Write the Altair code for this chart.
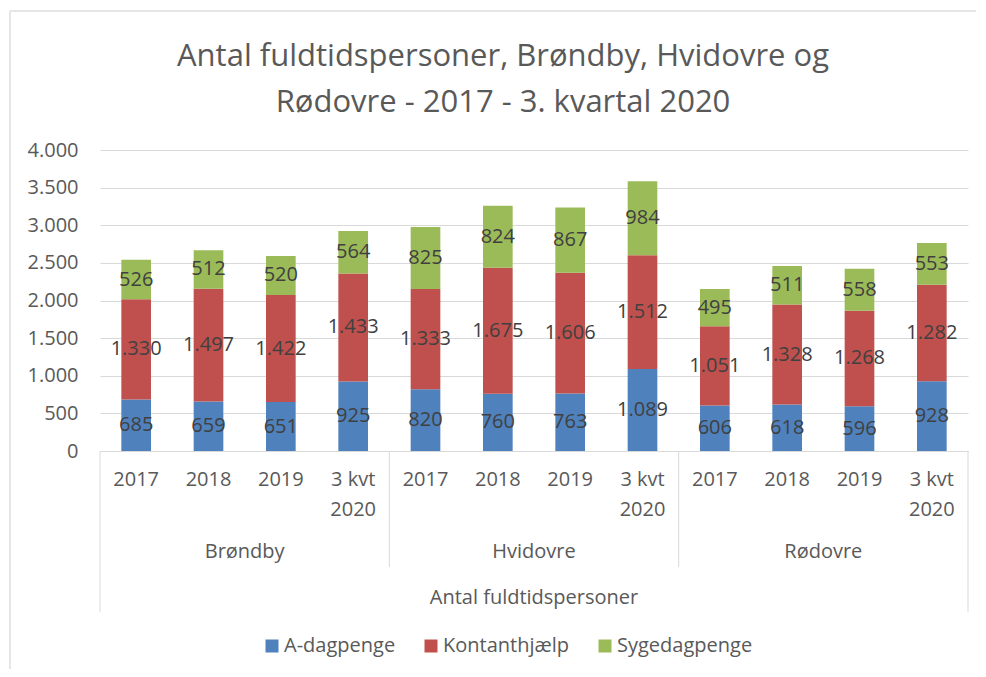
import altair as alt
import pandas as pd

municipalities = ["Brøndby", "Hvidovre", "Rødovre"]
periods = ["2017", "2018", "2019", "3 kvt|2020"]
series = ["A-dagpenge", "Kontanthjælp", "Sygedagpenge"]
colors = ["#4F81BD", "#C0504D", "#9BBB59"]

a_dagpenge = [685, 659, 651, 925, 820, 760, 763, 1089, 606, 618, 596, 928]
kontanthjaelp = [1330, 1497, 1422, 1433, 1333, 1675, 1606, 1512, 1051, 1328, 1268, 1282]
sygedagpenge = [526, 512, 520, 564, 825, 824, 867, 984, 495, 511, 558, 553]

values = {"A-dagpenge": a_dagpenge, "Kontanthjælp": kontanthjaelp, "Sygedagpenge": sygedagpenge}

keys = [m + "#" + p for m in municipalities for p in periods]
rows = []
for si, s in enumerate(series):
    for ki, k in enumerate(keys):
        rows.append({"key": k, "series": s, "order": si, "value": values[s][ki]})
df = pd.DataFrame(rows)

W, H = 868, 301
FONT = "Open Sans"

xscale = alt.Scale(domain=keys, paddingInner=0, paddingOuter=0)
xaxis = alt.Axis(
    title=None, labelExpr="split(split(datum.label, '#')[1], '|')",
    labelAngle=0, labelFont=FONT, labelFontSize=20, labelColor="#595959",
    labelLineHeight=30, labelPadding=18, ticks=False, domainColor="#D9D9D9",
    labelBaseline="top", grid=False, labelOverlap=False,
)
yscale = alt.Scale(domain=[0, 4000])
yaxis = alt.Axis(title=None, values=list(range(0, 4001, 500)),
                 labelExpr="replace(format(datum.value, ','), ',', '.')",
                 labelFont=FONT, labelFontSize=20, labelColor="#595959",
                 labelPadding=22, ticks=False, domain=False, labelOverlap=False,
                 gridColor="#D9D9D9")

base = alt.Chart(df).transform_stack(
    stack="value", groupby=["key"], sort=[alt.SortField("order")], as_=["y0", "y1"]
).transform_calculate(
    mid="(datum.y0 + datum.y1) / 2",
    lbl="replace(format(datum.value, ','), ',', '.')",
)

bars = base.mark_bar(width=alt.RelativeBandSize(0.41)).encode(
    x=alt.X("key:N", scale=xscale, axis=xaxis, sort=keys),
    y=alt.Y("y0:Q", scale=yscale, axis=yaxis),
    y2="y1:Q",
    color=alt.Color("series:N", scale=alt.Scale(domain=series, range=colors),
                    legend=alt.Legend(title=None, orient="none", legendX=162, legendY=486,
                                      direction="horizontal", symbolType="square",
                                      symbolSize=169, symbolStrokeWidth=0,
                                      labelFont=FONT, labelFontSize=20, labelColor="#595959",
                                      labelOffset=2, columnPadding=25)),
)

labels = base.mark_text(font=FONT, fontSize=20, color="#404040").encode(
    x=alt.X("key:N", scale=xscale, axis=xaxis, sort=keys),
    y=alt.Y("mid:Q", scale=yscale, axis=yaxis),
    text="lbl:N",
)

groups_df = pd.DataFrame({"key": [m + "#" + periods[2] for m in municipalities], "name": municipalities})
group_labels = alt.Chart(groups_df).mark_text(font=FONT, fontSize=20, color="#595959").encode(
    x=alt.X("key:N", scale=xscale, axis=xaxis, sort=keys, bandPosition=0),
    y=alt.value(402),
    text="name:N",
)

inner_df = pd.DataFrame({"key": [m + "#" + periods[0] for m in municipalities[1:]]})
inner_rules = alt.Chart(inner_df).mark_rule(color="#D9D9D9", strokeWidth=1).encode(
    x=alt.X("key:N", scale=xscale, axis=xaxis, sort=keys, bandPosition=0),
    y=alt.value(H), y2=alt.value(417),
)
outer_left = alt.Chart(pd.DataFrame({"key": [keys[0]]})).mark_rule(color="#D9D9D9").encode(
    x=alt.X("key:N", scale=xscale, axis=xaxis, sort=keys, bandPosition=0),
    y=alt.value(H), y2=alt.value(462),
)
outer_right = alt.Chart(pd.DataFrame({"key": [keys[-1]]})).mark_rule(color="#D9D9D9").encode(
    x=alt.X("key:N", scale=xscale, axis=xaxis, sort=keys, bandPosition=1),
    y=alt.value(H), y2=alt.value(462),
)

axis_title = alt.Chart(pd.DataFrame({"t": ["Antal fuldtidspersoner"]})).mark_text(
    font=FONT, fontSize=20, color="#595959").encode(
    x=alt.value(W / 2), y=alt.value(448), text="t:N")

frame_top = alt.Chart(pd.DataFrame({"a": [0]})).mark_rule(color="#E6E6E6", strokeWidth=2).encode(
    x=alt.value(-90), x2=alt.value(900), y=alt.value(-139))
frame_left = alt.Chart(pd.DataFrame({"a": [0]})).mark_rule(color="#E6E6E6", strokeWidth=2).encode(
    x=alt.value(-90), y=alt.value(-139), y2=alt.value(530))

chart = alt.layer(
    frame_top, frame_left, bars, labels, group_labels, inner_rules, outer_left, outer_right, axis_title
).properties(
    width=W, height=H,
    autosize=alt.AutoSizeParams(type="none"),
    padding={"left": 92, "top": 142, "right": 8, "bottom": 218},
    title=alt.Title(
        ["Antal fuldtidspersoner, Brøndby, Hvidovre og", "Rødovre - 2017 - 3. kvartal 2020"],
        font=FONT, fontSize=31, fontWeight="normal", color="#595959",
        lineHeight=46, anchor="middle", dx=-31, offset=-109,
    ),
).configure_view(stroke=None)

chart.save("out.html", embed_options={"renderer": "svg", "actions": False})
